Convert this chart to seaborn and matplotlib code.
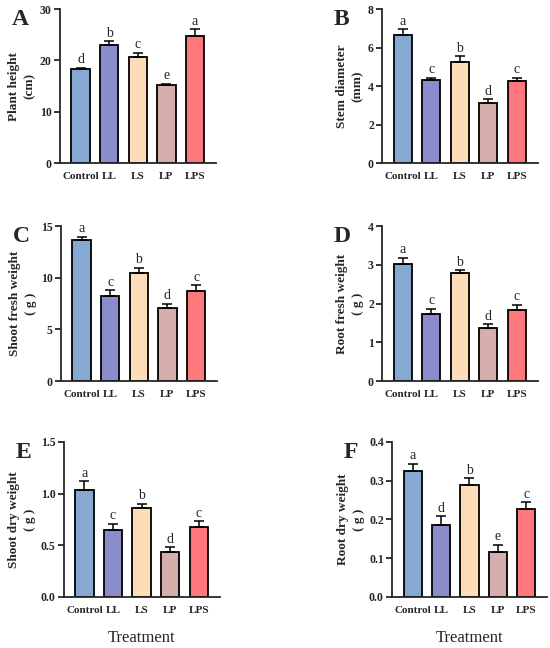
import matplotlib
matplotlib.use("Agg")
import matplotlib.pyplot as plt
import seaborn as sns
import numpy as np

# treatments and colours
treatments = ["Control", "LL", "LS", "LP", "LPS"]
colors = ["#86a9d3", "#8a8ccc", "#fddcb8", "#d5adab", "#fd777b"]

# means, upper error (SE) and significance letters
plant_height = [18.3, 23.1, 20.6, 15.2, 24.8]
plant_height_err = [0.3, 0.6, 0.9, 0.3, 1.3]
plant_height_sig = ["d", "b", "c", "e", "a"]

stem_diameter = [6.65, 4.3, 5.28, 3.15, 4.28]
stem_diameter_err = [0.3, 0.13, 0.26, 0.17, 0.16]
stem_diameter_sig = ["a", "c", "b", "d", "c"]

shoot_fresh = [13.7, 8.2, 10.5, 7.07, 8.68]
shoot_fresh_err = [0.25, 0.58, 0.45, 0.42, 0.58]
shoot_fresh_sig = ["a", "c", "b", "d", "c"]

root_fresh = [3.01, 1.73, 2.78, 1.36, 1.83]
root_fresh_err = [0.18, 0.13, 0.08, 0.11, 0.14]
root_fresh_sig = ["a", "c", "b", "d", "c"]

shoot_dry = [1.035, 0.645, 0.86, 0.43, 0.675]
shoot_dry_err = [0.085, 0.06, 0.04, 0.05, 0.055]
shoot_dry_sig = ["a", "c", "b", "d", "c"]

root_dry = [0.325, 0.185, 0.288, 0.115, 0.226]
root_dry_err = [0.018, 0.023, 0.018, 0.019, 0.018]
root_dry_sig = ["a", "d", "b", "e", "c"]

sns.set_style("ticks")
plt.rcParams["font.family"] = ["Liberation Serif", "DejaVu Serif"]

fig = plt.figure(figsize=(5.5, 6.48), dpi=100)

panels = [
    ("A", [0.109, 0.748, 0.284, 0.238], plant_height, plant_height_err, plant_height_sig,
     "Plant height\n(cm)", 30, [0, 10, 20, 30], "{:.0f}"),
    ("B", [0.695, 0.748, 0.283, 0.238], stem_diameter, stem_diameter_err, stem_diameter_sig,
     "Stem diameter\n(mm)", 8, [0, 2, 4, 6, 8], "{:.0f}"),
    ("C", [0.111, 0.412, 0.284, 0.239], shoot_fresh, shoot_fresh_err, shoot_fresh_sig,
     "Shoot fresh weight\n( g )", 15, [0, 5, 10, 15], "{:.0f}"),
    ("D", [0.695, 0.412, 0.283, 0.239], root_fresh, root_fresh_err, root_fresh_sig,
     "Root fresh weight\n( g )", 4, [0, 1, 2, 3, 4], "{:.0f}"),
    ("E", [0.116, 0.079, 0.284, 0.239], shoot_dry, shoot_dry_err, shoot_dry_sig,
     "Shoot dry weight\n( g )", 1.5, [0, 0.5, 1.0, 1.5], "{:.1f}"),
    ("F", [0.713, 0.079, 0.282, 0.239], root_dry, root_dry_err, root_dry_sig,
     "Root dry weight\n( g )", 0.4, [0, 0.1, 0.2, 0.3, 0.4], "{:.1f}"),
]

for letter, pos, vals, errs, sig, ylabel, ymax, yticks, fmt in panels:
    ax = fig.add_axes(pos)
    sns.barplot(x=treatments, y=vals, hue=treatments, palette=colors, legend=False,
                saturation=1, edgecolor="black", linewidth=1.3, width=0.64, ax=ax)
    ax.errorbar(range(len(vals)), vals, yerr=[np.zeros(len(vals)), errs], fmt="none",
                ecolor="black", elinewidth=1.1, capsize=3.7, capthick=1.1)
    for i, (v, e, s) in enumerate(zip(vals, errs, sig)):
        ax.text(i, v + e + ymax * 0.01, s, ha="center", va="bottom", fontsize=10)
    ax.set_xlim(-0.72, 4.74)
    ax.set_ylim(0, ymax)
    ax.set_yticks(yticks)
    ax.set_yticklabels([fmt.format(t) for t in yticks], fontweight="bold", fontsize=8.5)
    ax.set_xticks(range(len(treatments)))
    ax.set_xticklabels(treatments, fontweight="bold", fontsize=8)
    ax.tick_params(axis="x", length=0, pad=6.5)
    ax.tick_params(axis="y", length=4, width=1.3, pad=2)
    ax.set_ylabel(ylabel, fontweight="bold", fontsize=9.5, linespacing=1.45, labelpad=3)
    sns.despine(ax=ax)
    for sp in ["left", "bottom"]:
        ax.spines[sp].set_linewidth(1.3)
    ax.text(-0.31, 1.0, letter, transform=ax.transAxes, fontsize=17,
            fontweight="bold", va="top", ha="left")
    if letter in ("E", "F"):
        ax.set_xlabel("Treatment", fontsize=12, labelpad=11)

fig.savefig("out.png", dpi=100)
